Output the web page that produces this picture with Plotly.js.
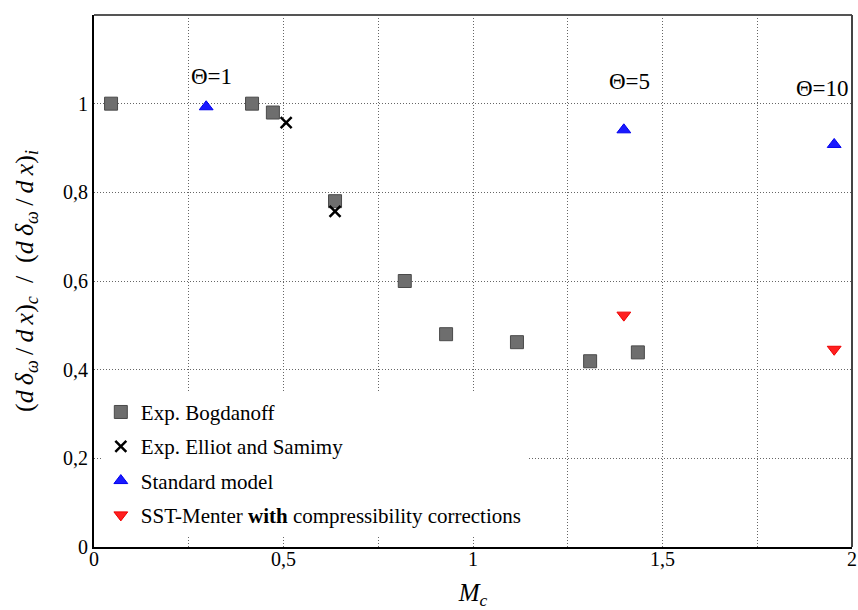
<!DOCTYPE html>
<html>
<head>
<meta charset="utf-8">
<script src="https://cdn.plot.ly/plotly-3.0.1.min.js"></script>
<style>html,body{margin:0;padding:0;background:#fff;}#chart{width:858px;height:610px;}</style>
</head>
<body>
<div id="chart"></div>
<script>
// Data
const bogdanoffMc = [0.045, 0.417, 0.472, 0.636, 0.82, 0.929, 1.116, 1.309, 1.435];
const bogdanoffRatio = [1.0, 1.0, 0.98, 0.78, 0.60, 0.48, 0.462, 0.419, 0.439];
const elliotMc = [0.507, 0.636];
const elliotRatio = [0.957, 0.757];
const standardMc = [0.296, 1.398, 1.953];
const standardRatio = [0.993, 0.941, 0.908];
const sstMc = [1.398, 1.953];
const sstRatio = [0.523, 0.446];
const thetaLabels = ['Θ=1', 'Θ=5', 'Θ=10'];
const thetaX = [0.311, 1.414, 1.923];
const thetaY = [1.061, 1.05, 1.034];
const yTickVals = [0, 0.2, 0.4, 0.6, 0.8, 1];
const yTickText = ['0', '0,2', '0,4', '0,6', '0,8', '1'];
const xTickVals = [0, 0.5, 1, 1.5, 2];
const xTickText = ['0', '0,5', '1', '1,5', '2'];
const legendNames = ['Exp. Bogdanoff', 'Exp. Elliot and Samimy', 'Standard model', 'SST-Menter <b>with</b> compressibility corrections'];

const serif = 'Liberation Serif';
const ts = '\u2009';
const half = (sub) => '(<i>d' + ts + 'δ</i><sub><i>ω</i></sub>' + ts + '/' + ts + '<i>d' + ts + 'x</i>)<sub><i>' + sub + '</i></sub>';
const yTitle = half('c') + '  /  ' + half('i');

const traces = [
  {x: bogdanoffMc, y: bogdanoffRatio, type: 'scatter', mode: 'markers', name: legendNames[0], legendgroup: 'a',
   marker: {symbol: 'square', size: 13, color: '#6e6e6e', line: {color: '#4a4a4a', width: 1}}},
  {x: elliotMc, y: elliotRatio, type: 'scatter', mode: 'markers', name: legendNames[1], legendgroup: 'b',
   marker: {symbol: 'x-thin-open', size: 11, color: '#000', line: {color: '#000', width: 2.5}}},
  {x: standardMc, y: standardRatio, type: 'scatter', mode: 'markers', name: legendNames[2], legendgroup: 'c',
   marker: {symbol: 'triangle-up', size: 12, color: '#1a1aff', line: {color: '#0000ee', width: 1}}},
  {x: sstMc, y: sstRatio, type: 'scatter', mode: 'markers', name: legendNames[3], legendgroup: 'd',
   marker: {symbol: 'triangle-down', size: 12, color: '#ff2020', line: {color: '#ee0000', width: 1}}}
];

const annotations = thetaLabels.map((t, i) => ({
  x: thetaX[i], y: thetaY[i], xref: 'x', yref: 'y', text: t, showarrow: false,
  font: {family: serif, size: 23, color: '#000'}
}));

const layout = {
  width: 858, height: 610,
  margin: {l: 94, r: 6, t: 15, b: 63},
  paper_bgcolor: '#fff', plot_bgcolor: '#fff',
  separators: ', ',
  font: {family: serif, size: 20, color: '#000'},
  showlegend: true,
  legend: {x: 0.009, y: 0.021, xanchor: 'left', yanchor: 'bottom', bgcolor: '#fff', borderwidth: 0,
           font: {family: serif, size: 21, color: '#000'}, tracegroupgap: 4, itemwidth: 30},
  xaxis: {
    range: [0, 2], tickvals: xTickVals, ticktext: xTickText, ticks: '', zeroline: false,
    showline: true, linecolor: '#000', linewidth: 2, ticklabelstandoff: -7,
    showgrid: true, gridcolor: '#666', griddash: '1px,2px', gridwidth: 1,
    minor: {dtick: 0.25, tick0: 0, showgrid: true, gridcolor: '#666', griddash: '1px,2px', gridwidth: 1},
    tickfont: {family: serif, size: 20},
    title: {text: '<i>M</i><sub><i>c</i></sub>', font: {family: serif, size: 25}, standoff: 15}
  },
  yaxis: {
    range: [0, 1.2], tickvals: yTickVals, ticktext: yTickText, ticks: '', zeroline: false,
    showline: true, linecolor: '#000', linewidth: 2,
    showgrid: true, gridcolor: '#666', griddash: '1px,2px', gridwidth: 1,
    tickfont: {family: serif, size: 20},
    title: {text: yTitle, font: {family: serif, size: 26}, standoff: 22}
  },
  shapes: [
    {type: 'line', xref: 'paper', yref: 'paper', x0: 0, x1: 1, y0: 1, y1: 1, line: {color: '#555', width: 2}},
    {type: 'line', xref: 'paper', yref: 'paper', x0: 1, x1: 1, y0: 0, y1: 1, line: {color: '#444', width: 2}}
  ],
  annotations: annotations
};

Plotly.newPlot('chart', traces, layout, {displayModeBar: false, staticPlot: true});
</script>
</body>
</html>
